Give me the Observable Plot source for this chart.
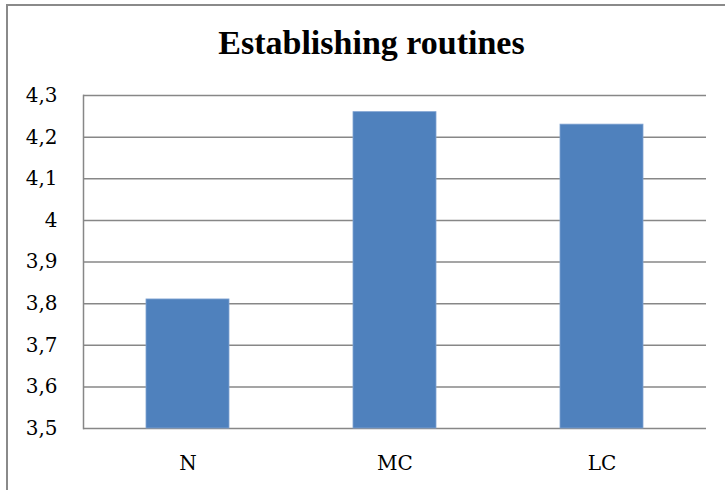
<!DOCTYPE html>
<html>
<head>
<meta charset="utf-8">
<script src="https://cdn.jsdelivr.net/npm/d3@7"></script>
<script src="https://cdn.jsdelivr.net/npm/@observablehq/plot@0.6"></script>
<style>
  html, body { margin: 0; padding: 0; background: #fff; }
  #wrap { position: relative; width: 725px; height: 490px; overflow: hidden; }
  #border { position: absolute; left: 6px; top: 4px; width: 740px; height: 500px;
            border-left: 2px solid #8a8a8a; border-top: 2px solid #8a8a8a; box-sizing: border-box; }
  #title { position: absolute; left: 0; top: 26px; width: 743px; text-align: center;
           font-family: "Liberation Serif", serif; font-weight: bold; font-size: 34px; line-height: 34px; color: #000; }
  #chart { position: absolute; left: 0; top: 0; }
  #chart svg text { font-family: "DejaVu Serif", serif !important; font-size: 20px !important; fill: #000; }
</style>
</head>
<body>
<div id="wrap">
  <div id="chart"></div>
  <div id="border"></div>
  <div id="title">Establishing routines</div>
</div>
<script>
const categories = ["N", "MC", "LC"];
const values = [3.81, 4.26, 4.23];
const yTicks = [3.5, 3.6, 3.7, 3.8, 3.9, 4.0, 4.1, 4.2, 4.3];

const data = categories.map((c, i) => ({category: c, value: values[i]}));
const fmt = d => String(+d.toFixed(1)).replace(".", ",");

const plot = Plot.plot({
  width: 725,
  height: 490,
  marginLeft: 83,
  marginRight: 19,
  marginTop: 95,
  marginBottom: 62,
  style: {background: "transparent"},
  x: {domain: categories, paddingInner: 0.6, paddingOuter: 0.3, label: null},
  y: {domain: [3.5, 4.3], label: null},
  marks: [
    Plot.ruleY(yTicks, {stroke: "#878787", strokeWidth: 1.5}),
    Plot.frame({anchor: "left", stroke: "#878787", strokeWidth: 1.5}),
    Plot.barY(data, {x: "category", y1: 3.5, y2: "value", fill: "#4F81BD", stroke: "#7fa3d1", strokeWidth: 0.8}),
    Plot.axisY({ticks: yTicks, tickFormat: fmt, tickSize: 0, tickPadding: 26, label: null, fontSize: 20}),
    Plot.axisX({tickSize: 0, tickPadding: 27, label: null, fontSize: 20})
  ]
});
document.getElementById("chart").appendChild(plot);
</script>
</body>
</html>
